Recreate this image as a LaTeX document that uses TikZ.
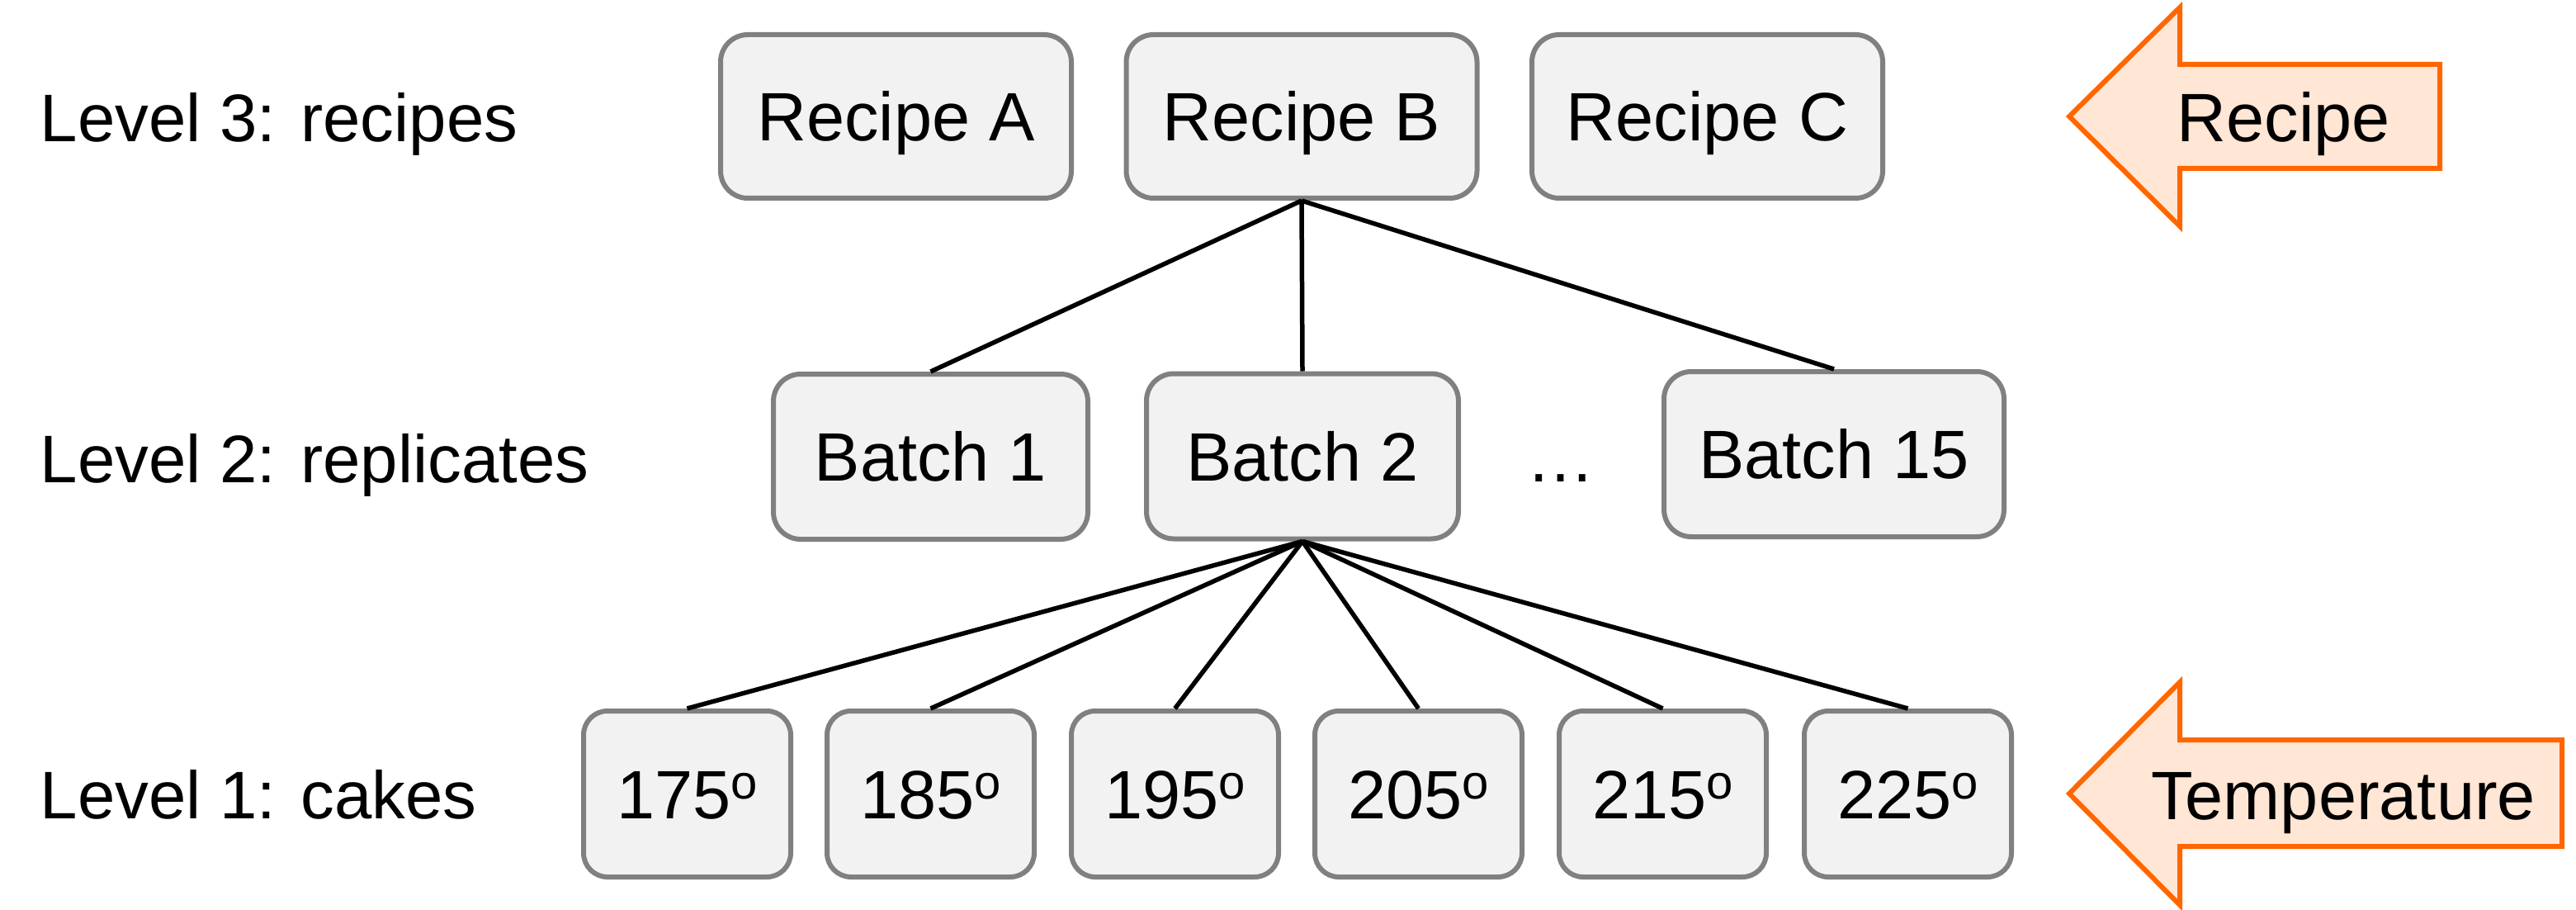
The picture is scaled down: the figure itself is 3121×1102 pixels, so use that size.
\documentclass[tikz,border=0pt]{standalone}
\usepackage{fontspec}
\setmainfont{Liberation Sans}
\definecolor{boxfill}{HTML}{F2F2F2}
\definecolor{boxline}{HTML}{808080}
\definecolor{arrline}{HTML}{FF6600}
\definecolor{arrfill}{HTML}{FFE6D5}
\newcommand{\degsup}{\raisebox{2.4mm}{\fontsize{16.5pt}{16.5pt}\selectfont o}}
\begin{document}
\begin{tikzpicture}[x=0.1mm,y=-0.1mm,
  every node/.style={font=\fontsize{23.6pt}{28pt}\selectfont},
  box/.style={draw=boxline, fill=boxfill, line width=0.6mm, rounded corners=3.3mm,
    inner sep=0pt, text height=5.94mm, text depth=0pt, align=center},
  rbox/.style={box, minimum width=42.5mm, minimum height=19.8mm},
  bbox/.style={box, minimum height=20.0mm},
  tbox/.style={box, rounded corners=2.9mm, minimum width=25.1mm, minimum height=20.1mm},
  conn/.style={draw=black, line width=0.55mm},
  arrsty/.style={draw=arrline, fill=arrfill, line width=0.6mm, line join=miter},
  lbl/.style={anchor=base west, inner sep=0pt, font=\fontsize{23.2pt}{28pt}\selectfont},
  txt/.style={anchor=base, inner sep=0pt}
]
\useasboundingbox (0,0) rectangle (3121,1102);

% level labels
\node[lbl] (L3) at (48,172) {Level 3: recipes};
\node[lbl] (L2) at (48,584) {Level 2: replicates};
\node[lbl] (L1) at (48,991) {Level 1: cakes};

% recipes
\node[rbox] (RA) at (1085.5,141) {Recipe A};
\node[rbox] (RB) at (1577,141) {Recipe B};
\node[rbox] (RC) at (2068.5,141) {Recipe C};

% batches
\node[bbox, minimum width=38.1mm] (B1) at (1127.5,553) {Batch 1};
\node[bbox, minimum width=37.8mm] (B2) at (1578,552.5) {Batch 2};
\node[bbox, minimum width=41.2mm] (B15) at (2222,550) {Batch 15};
\node[txt] (dots) at (1891,583) {…};

% temperatures
\node[tbox] (T1) at (832.5,961.5) {175\degsup};
\node[tbox] (T2) at (1127.5,961.5) {185\degsup};
\node[tbox] (T3) at (1423.5,961.5) {195\degsup};
\node[tbox] (T4) at (1718.5,961.5) {205\degsup};
\node[tbox] (T5) at (2014.5,961.5) {215\degsup};
\node[tbox] (T6) at (2311.5,961.5) {225\degsup};

% connectors
\draw[conn] (RB.south) -- (B1.north);
\draw[conn] (RB.south) -- (B2.north);
\draw[conn] (RB.south) -- (B15.north);
\foreach \t in {T1,T2,T3,T4,T5,T6}{
  \draw[conn] (B2.south) -- (\t.north);
}

% orange arrows
\draw[arrsty] (2507,141) -- (2641,9) -- (2641,78) -- (2956,78) -- (2956,204) -- (2641,204) -- (2641,274) -- cycle;
\node[txt] (ArrR) at (2767,171) {Recipe};
\draw[arrsty] (2507,961) -- (2641,826) -- (2641,896) -- (3104,896) -- (3104,1025) -- (2641,1025) -- (2641,1096) -- cycle;
\node[txt] (ArrT) at (2839,992) {Temperature};
\end{tikzpicture}
\end{document}
